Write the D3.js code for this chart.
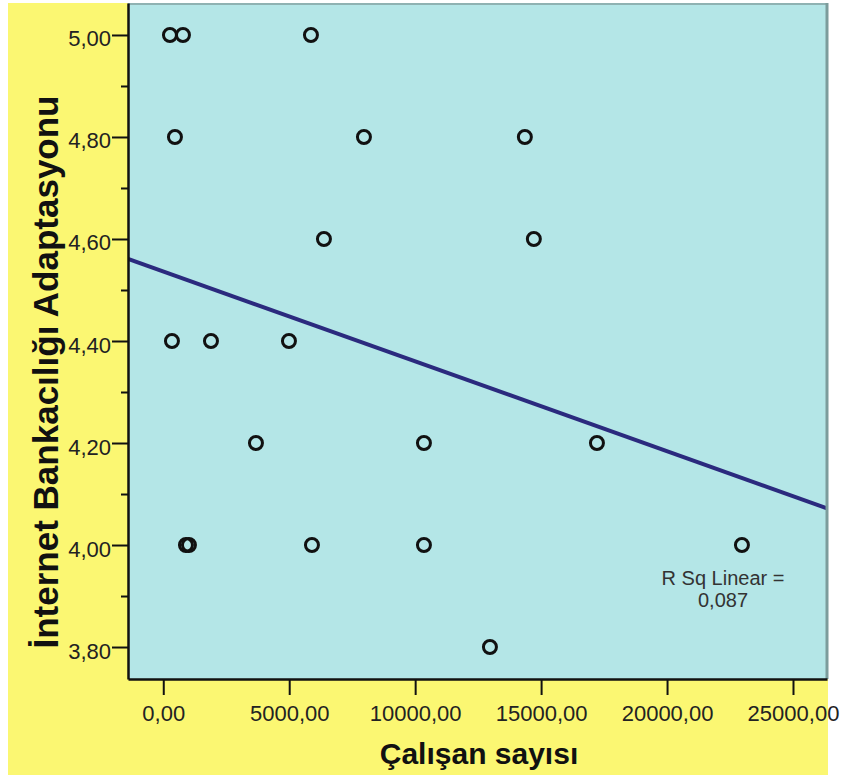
<!DOCTYPE html>
<html>
<head>
<meta charset="utf-8">
<script src="https://cdn.jsdelivr.net/npm/d3@7"></script>
<style>
  body { margin: 0; background: #fff; }
  text { font-family: Arial, "Liberation Sans", sans-serif; }
</style>
</head>
<body>
<div id="viz"></div>
<script>
// -----------------------------
// DATA
// -----------------------------
const employees = [
  266, 782, 5863,
  464, 7967, 14355,
  6379, 14712,
  345, 1894, 4990,
  3680, 10349, 17217,
  901, 1020, 5903, 10349, 22973,
  12969
];
const adaptation = [
  5.0, 5.0, 5.0,
  4.8, 4.8, 4.8,
  4.6, 4.6,
  4.4, 4.4, 4.4,
  4.2, 4.2, 4.2,
  4.0, 4.0, 4.0, 4.0, 4.0,
  3.8
];
const xTicks = [0, 5000, 10000, 15000, 20000, 25000];
const yTicks = [3.8, 4.0, 4.2, 4.4, 4.6, 4.8, 5.0];
const yMinorTicks = [3.9, 4.1, 4.3, 4.5, 4.7, 4.9];
const xTitle = "Çalışan sayısı";
const yTitle = "İnternet Bankacılığı Adaptasyonu";

const width = 843, height = 779;
const plot = { left: 128, right: 827, top: 3, bottom: 679 };

const svg = d3.select("#viz")
  .append("svg")
  .attr("width", width)
  .attr("height", height);

// backgrounds
svg.append("rect")
  .attr("x", 8).attr("y", 3)
  .attr("width", 820).attr("height", 772)
  .attr("fill", "#fbf772");

svg.append("rect")
  .attr("x", plot.left).attr("y", plot.top)
  .attr("width", plot.right - plot.left).attr("height", plot.bottom - plot.top)
  .attr("fill", "#b4e6e7");

// scales
const x = d3.scaleLinear().domain([-1400, 26350]).range([plot.left, plot.right]);
const y = d3.scaleLinear().domain([3.7373, 5.0627]).range([plot.bottom, plot.top]);

const comma2 = v => d3.format(".2f")(v).replace(".", ",");

// -----------------------------
// REGRESSION
// -----------------------------
const pts = employees.map((v, i) => ({ x: v, y: adaptation[i] }));
const mx = d3.mean(pts, d => d.x), my = d3.mean(pts, d => d.y);
const sxy = d3.sum(pts, d => (d.x - mx) * (d.y - my));
const sxx = d3.sum(pts, d => (d.x - mx) ** 2);
const syy = d3.sum(pts, d => (d.y - my) ** 2);
const slope = sxy / sxx;
const intercept = my - slope * mx;
const r2 = (sxy * sxy) / (sxx * syy);

svg.append("clipPath").attr("id", "clip")
  .append("rect")
  .attr("x", plot.left).attr("y", plot.top)
  .attr("width", plot.right - plot.left).attr("height", plot.bottom - plot.top);

const xd = x.domain();
svg.append("line")
  .attr("clip-path", "url(#clip)")
  .attr("x1", x(xd[0])).attr("y1", y(intercept + slope * xd[0]))
  .attr("x2", x(xd[1])).attr("y2", y(intercept + slope * xd[1]))
  .attr("stroke", "#2b2a7e")
  .attr("stroke-width", 4);

// points
svg.append("g")
  .selectAll("circle")
  .data(pts)
  .join("circle")
  .attr("cx", d => x(d.x))
  .attr("cy", d => y(d.y))
  .attr("r", 6.5)
  .attr("fill", "none")
  .attr("stroke", "#111")
  .attr("stroke-width", 3);

// R square label
const rsq = svg.append("text")
  .attr("x", 723).attr("y", 585)
  .attr("text-anchor", "middle")
  .attr("font-size", 20)
  .attr("fill", "#333");
rsq.append("tspan").attr("x", 723).text("R Sq Linear =");
rsq.append("tspan").attr("x", 723).attr("dy", 22).text(d3.format(".3f")(r2).replace(".", ","));

// frame: top/right grey, left/bottom black
svg.append("line")
  .attr("x1", plot.left).attr("x2", plot.right + 1)
  .attr("y1", plot.top + 1).attr("y2", plot.top + 1)
  .attr("stroke", "#8fb2b2").attr("stroke-width", 2);
svg.append("line")
  .attr("x1", plot.right).attr("x2", plot.right)
  .attr("y1", plot.top).attr("y2", plot.bottom)
  .attr("stroke", "#7c9c9c").attr("stroke-width", 3);

// -----------------------------
// AXES
// -----------------------------
const xAxis = svg.append("g")
  .attr("transform", `translate(0,${plot.bottom})`)
  .call(d3.axisBottom(x).tickValues(xTicks).tickFormat(comma2).tickSize(16).tickSizeOuter(0));
xAxis.select(".domain").attr("stroke", "#111").attr("stroke-width", 2.5);
xAxis.selectAll(".tick line").attr("stroke", "#111").attr("stroke-width", 2);
xAxis.selectAll(".tick text")
  .attr("font-size", 22).attr("fill", "#222")
  .attr("y", 42).attr("dy", 0);

const yAxis = svg.append("g")
  .attr("transform", `translate(${plot.left},0)`)
  .call(d3.axisLeft(y).tickValues(yTicks).tickFormat(comma2).tickSize(16).tickSizeOuter(0));
yAxis.select(".domain").attr("stroke", "#111").attr("stroke-width", 2.5);
yAxis.selectAll(".tick line").attr("stroke", "#111").attr("stroke-width", 2);
yAxis.selectAll(".tick text")
  .attr("font-size", 22).attr("fill", "#222")
  .attr("x", -17).attr("dy", 11);

svg.append("g")
  .attr("transform", `translate(${plot.left},0)`)
  .call(d3.axisLeft(y).tickValues(yMinorTicks).tickFormat("").tickSize(7).tickSizeOuter(0))
  .call(g => g.select(".domain").remove())
  .selectAll(".tick line").attr("stroke", "#111").attr("stroke-width", 2);

// titles
svg.append("text")
  .attr("x", 479).attr("y", 764)
  .attr("text-anchor", "middle")
  .attr("font-size", 30).attr("font-weight", "bold")
  .attr("fill", "#111")
  .text(xTitle);

svg.append("text")
  .attr("transform", "translate(58,372) rotate(-90)")
  .attr("text-anchor", "middle")
  .attr("font-size", 35).attr("font-weight", "bold")
  .attr("fill", "#111")
  .text(yTitle);
</script>
</body>
</html>
